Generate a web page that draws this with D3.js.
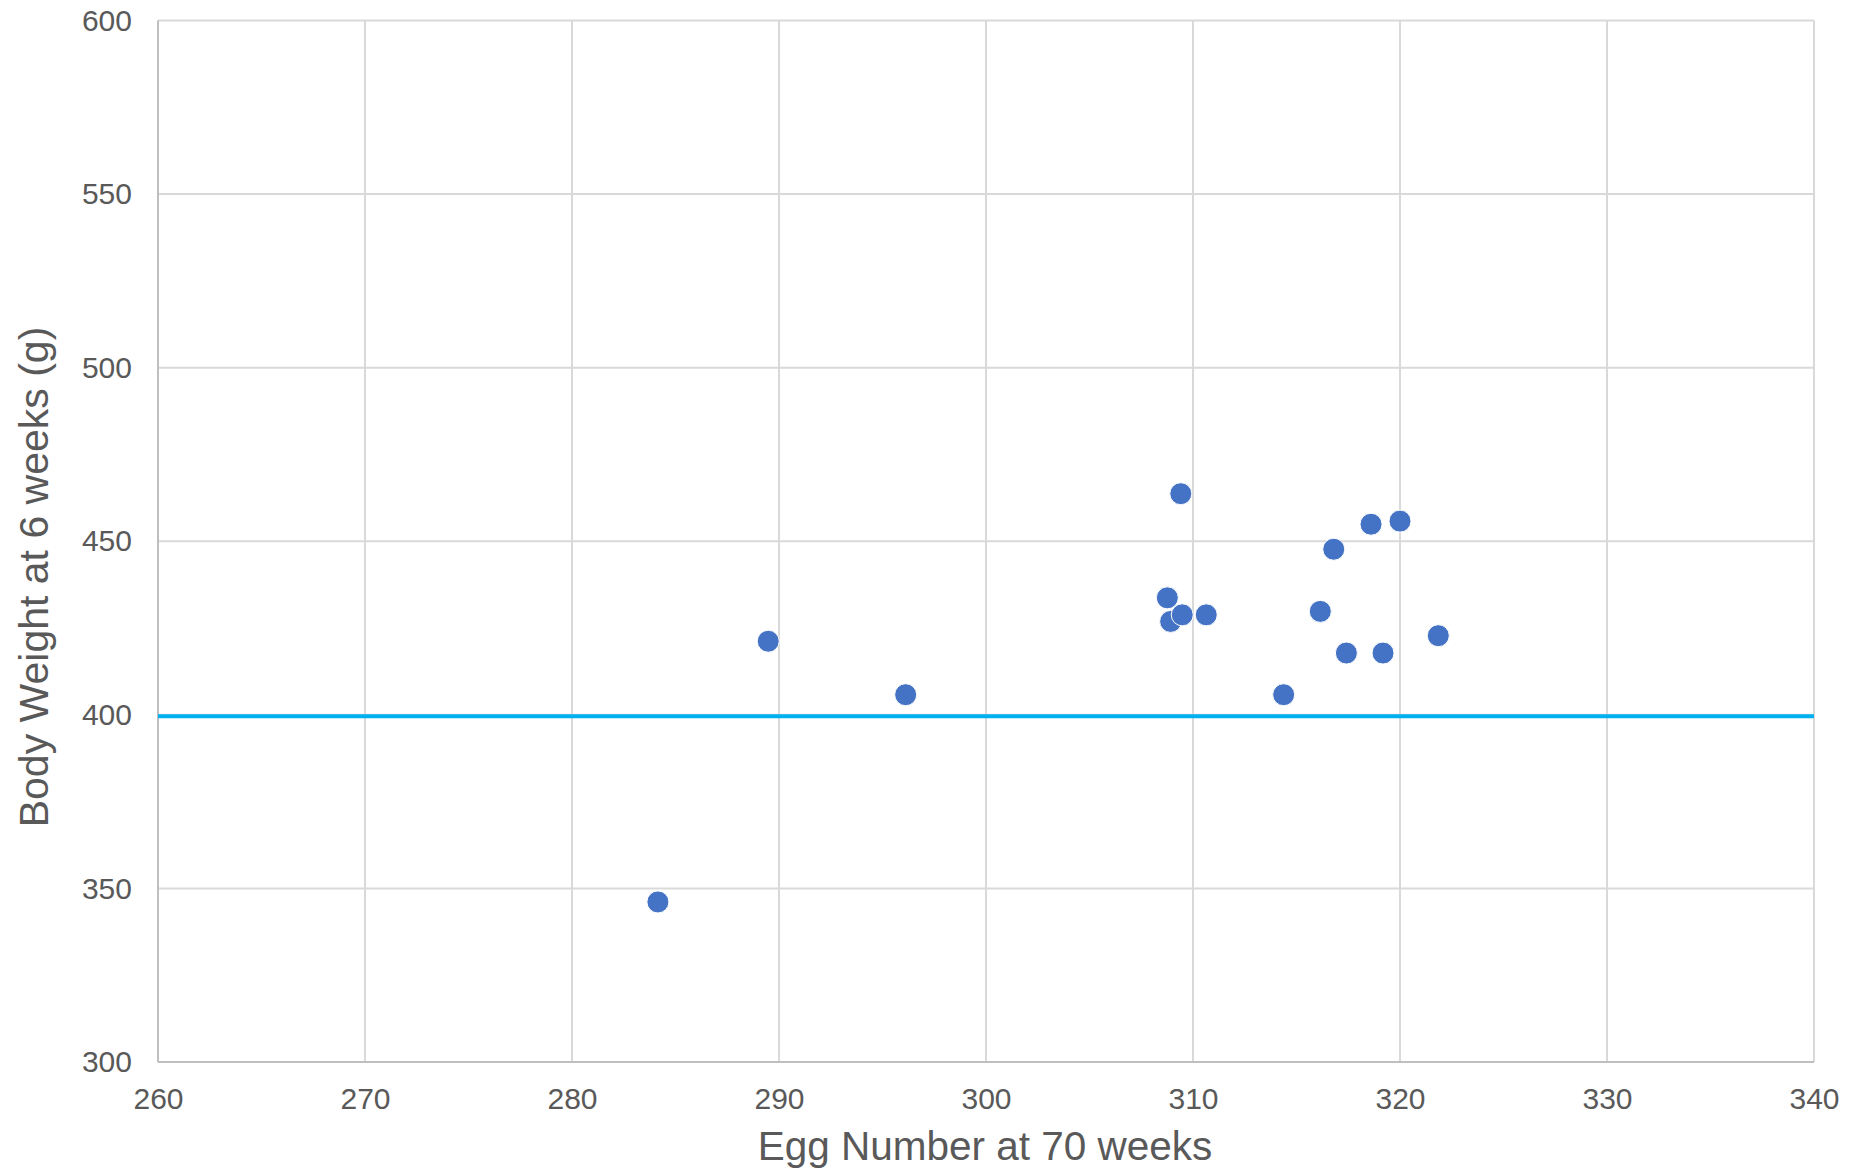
<!DOCTYPE html>
<html>
<head>
<meta charset="utf-8">
<script src="https://cdn.jsdelivr.net/npm/d3@7"></script>
<style>
  html, body { margin: 0; padding: 0; background: #fff; }
  svg { display: block; font-family: "Liberation Sans", Arial, sans-serif; }
</style>
</head>
<body>
<svg id="chart" width="1852" height="1170"></svg>
<script>
// Data
const eggNumber  = [284.15, 289.48, 296.12, 308.76, 308.92, 309.41, 309.48, 310.64, 314.38, 316.15, 316.8, 317.41, 318.6, 319.18, 320.0, 321.85];
const bodyWeight = [346.1, 421.2, 405.8, 433.7, 426.9, 463.7, 428.8, 428.8, 405.8, 429.8, 447.7, 417.8, 454.9, 417.8, 455.8, 422.8];
const xTicks = [260, 270, 280, 290, 300, 310, 320, 330, 340];
const yTicks = [300, 350, 400, 450, 500, 550, 600];
const referenceWeight = [400];
const xTitle = "Egg Number at 70 weeks";
const yTitle = "Body Weight at 6 weeks (g)";

(function () {
const svg = d3.select("#chart");
const pLeft = 158, pRight = 1814, pTop = 20.5, pBottom = 1062;

const x = d3.scaleLinear().domain([260, 340]).range([pLeft, pRight]);
const y = d3.scaleLinear().domain([300, 600]).range([pBottom, pTop]);

// Gridlines
svg.append("g").selectAll("line").data(xTicks).join("line")
  .attr("x1", d => x(d)).attr("x2", d => x(d))
  .attr("y1", pTop).attr("y2", pBottom)
  .attr("stroke", "#d9d9d9").attr("stroke-width", 2);
svg.append("g").selectAll("line").data(yTicks).join("line")
  .attr("x1", pLeft).attr("x2", pRight)
  .attr("y1", d => y(d)).attr("y2", d => y(d))
  .attr("stroke", "#d9d9d9").attr("stroke-width", 2);

// Axis lines
svg.append("line").attr("x1", pLeft).attr("x2", pRight).attr("y1", pBottom).attr("y2", pBottom)
  .attr("stroke", "#bfbfbf").attr("stroke-width", 2);
svg.append("line").attr("x1", pLeft).attr("x2", pLeft).attr("y1", pTop).attr("y2", pBottom)
  .attr("stroke", "#bfbfbf").attr("stroke-width", 2);

// Axes via d3 axis generators (labels only)
const xAxis = svg.append("g").attr("transform", `translate(0,${pBottom})`)
  .call(d3.axisBottom(x).tickValues(xTicks).tickSize(0).tickPadding(47).tickFormat(d3.format("d")));
const yAxis = svg.append("g").attr("transform", `translate(${pLeft},0)`)
  .call(d3.axisLeft(y).tickValues(yTicks).tickSize(0).tickPadding(26).tickFormat(d3.format("d")));
[xAxis, yAxis].forEach(g => {
  g.select(".domain").remove();
  g.selectAll("text").attr("fill", "#595959").attr("font-size", 30)
    .attr("font-family", "'Liberation Sans', Arial, sans-serif");
});
xAxis.selectAll("text").attr("dy", null).attr("y", 47);

// Reference line
svg.append("g").selectAll("line").data(referenceWeight).join("line")
  .attr("x1", pLeft).attr("x2", pRight)
  .attr("y1", d => y(d) + 1.5).attr("y2", d => y(d) + 1.5)
  .attr("stroke", "#00b0f0").attr("stroke-width", 4);

// Points
svg.append("g").selectAll("circle").data(eggNumber.map((e, i) => [e, bodyWeight[i]])).join("circle")
  .attr("cx", d => x(d[0])).attr("cy", d => y(d[1])).attr("r", 11)
  .attr("fill", "#4472c4").attr("stroke", "#ffffff").attr("stroke-width", 1);

// Titles
svg.append("text").attr("x", 985).attr("y", 1160).attr("text-anchor", "middle")
  .attr("font-size", 40.5).attr("fill", "#595959").text(xTitle);
svg.append("text").attr("transform", "translate(48,577) rotate(-90)").attr("text-anchor", "middle")
  .attr("font-size", 41).attr("fill", "#595959").text(yTitle);
})();
</script>
</body>
</html>
